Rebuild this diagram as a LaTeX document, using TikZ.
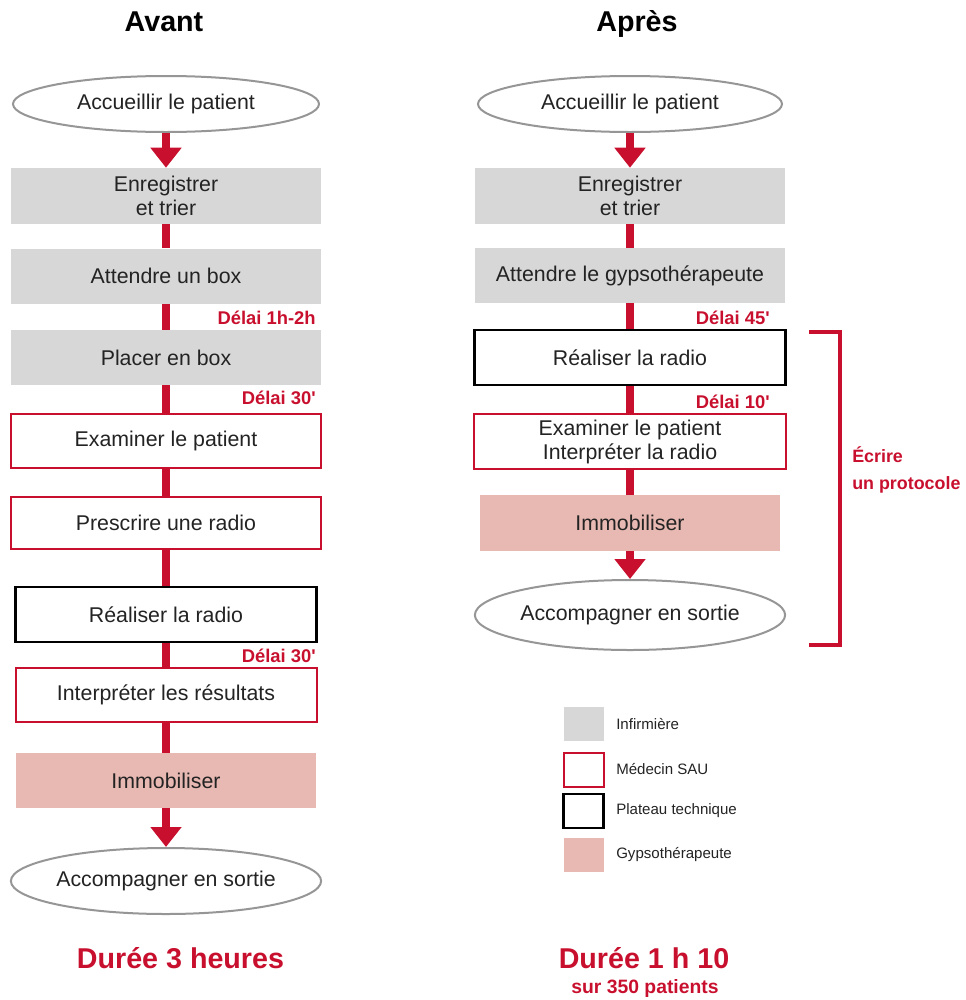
\documentclass[tikz,border=0pt]{standalone}
\usepackage{fontspec}
\setmainfont{Liberation Sans}
\usepackage{tikz}
\usetikzlibrary{arrows.meta,shapes.geometric}

\definecolor{saured}{RGB}{200,16,46}
\definecolor{nursegray}{RGB}{215,215,215}
\definecolor{gypsopink}{RGB}{232,185,178}
\definecolor{rimgray}{RGB}{150,150,150}
\definecolor{inkgray}{RGB}{35,35,35}

\begin{document}
\begin{tikzpicture}[x=0.75pt, y=-0.75pt,
    taskbox/.style={rectangle, minimum width=232.5pt, minimum height=41.25pt, inner sep=0pt,
      align=center, text=inkgray, font=\fontsize{16}{18}\selectfont},
    nurse/.style={taskbox, fill=nursegray},
    doctor/.style={taskbox, draw=saured, line width=1.5pt, fill=white},
    plateau/.style={taskbox, draw=black, line width=2pt, fill=white},
    gypso/.style={taskbox, fill=gypsopink},
    endpoint/.style={ellipse, draw=rimgray, line width=1.5pt, fill=white, inner sep=0pt,
      minimum width=229.5pt, minimum height=42pt, text=inkgray, font=\fontsize{16}{18}\selectfont},
    link/.style={draw=saured, line width=6.5pt},
    flow/.style={link, -{Triangle[width=22.5pt,length=15pt]}},
    delay/.style={anchor=east, text=saured, inner sep=0pt, font=\bfseries\fontsize{13.8}{15}\selectfont},
    heading/.style={anchor=base, text=black, font=\bfseries\fontsize{21.5}{25}\selectfont},
    total/.style={heading, text=saured},
    keytext/.style={anchor=west, inner sep=0pt, text=inkgray, font=\fontsize{11.3}{13}\selectfont}]
    \useasboundingbox (0,0) rectangle (966,1000);

    % avant
    \node[heading] (avant) at (164,31) {Avant};
    \node[endpoint] (accueilA) at (166,104) {Accueillir le patient};
    \node[nurse, minimum height=42pt] (enregA) at (166,196) {Enregistrer\\ et trier};
    \node[nurse] (attenteA) at (166,276) {Attendre un box};
    \node[nurse] (placerA) at (166,357.5) {Placer en box};
    \node[doctor, minimum height=40.5pt] (examA) at (166,441) {Examiner le patient};
    \node[doctor, minimum height=39pt] (prescrA) at (166,523) {Prescrire une radio};
    \node[plateau, minimum width=225.75pt] (radioA) at (166,614.5) {Réaliser la radio};
    \node[doctor, minimum width=225.75pt, minimum height=40.5pt] (interpA) at (166,695) {Interpréter les résultats};
    \node[gypso, minimum width=225pt] (immobA) at (166,780.5) {Immobiliser};
    \node[endpoint, minimum height=49.5pt] (sortieA) at (166,881) {Accompagner en sortie};
    \node[total] (dureeA) at (180.5,968) {Durée 3 heures};

    \draw[flow] (accueilA) -- (enregA);
    \foreach \a/\b in {enregA/attenteA, attenteA/placerA, placerA/examA, examA/prescrA,
                       prescrA/radioA, radioA/interpA, interpA/immobA}
        \draw[link] (\a) -- (\b);
    \draw[flow] (immobA) -- (sortieA);

    \node[delay] at (316,318) {Délai 1h-2h};
    \node[delay] at (316,398) {Délai 30\textquotesingle};
    \node[delay] at (316,656) {Délai 30\textquotesingle};

    % apres
    \node[heading] (apres) at (637,31) {Après};
    \node[endpoint, minimum width=228pt] (accueilB) at (630,104) {Accueillir le patient};
    \node[nurse, minimum height=42pt] (enregB) at (630,196) {Enregistrer\\ et trier};
    \node[nurse] (attenteB) at (630,275.5) {Attendre le gypsothérapeute};
    \node[plateau, minimum width=233.25pt] (radioB) at (630,357.5) {Réaliser la radio};
    \node[doctor, minimum width=234pt] (examB) at (630,441.5) {Examiner le patient\\ Interpréter la radio};
    \node[gypso, minimum width=225pt, minimum height=42pt] (immobB) at (630,523) {Immobiliser};
    \node[endpoint, minimum width=230.25pt, minimum height=52.5pt] (sortieB) at (630,615) {Accompagner en sortie};
    \node[total] (dureeB) at (644,968) {Durée 1 h 10};
    \node[text=saured, font=\bfseries\fontsize{14.5}{17}\selectfont] (patientsB) at (645,988) {sur 350 patients};

    \draw[flow] (accueilB) -- (enregB);
    \foreach \a/\b in {enregB/attenteB, attenteB/radioB, radioB/examB, examB/immobB}
        \draw[link] (\a) -- (\b);
    \draw[flow] (immobB) -- (sortieB);

    \node[delay] at (770,318) {Délai 45\textquotesingle};
    \node[delay] at (770,402) {Délai 10\textquotesingle};

    % protocole
    \draw[saured, line width=3pt] (809,332) -- (840,332) -- (840,645) -- (809,645);
    \node[anchor=west, align=left, inner sep=0pt, text=saured,
          font=\bfseries\fontsize{13.4}{20}\selectfont] (protocole) at (852,470) {Écrire\\ un protocole};

    % legende
    \foreach \sty/\lbl/\yy in {nurse/Infirmière/724, doctor/Médecin SAU/769.5,
                               plateau/Plateau technique/811, gypso/Gypsothérapeute/855} {
        \node[\sty, minimum width=30pt, minimum height=25.5pt] (key\sty) at (583.5,\yy) {};
        \node[keytext] (lbl\sty) at (616,\yy) {\lbl};
    }
\end{tikzpicture}
\end{document}
